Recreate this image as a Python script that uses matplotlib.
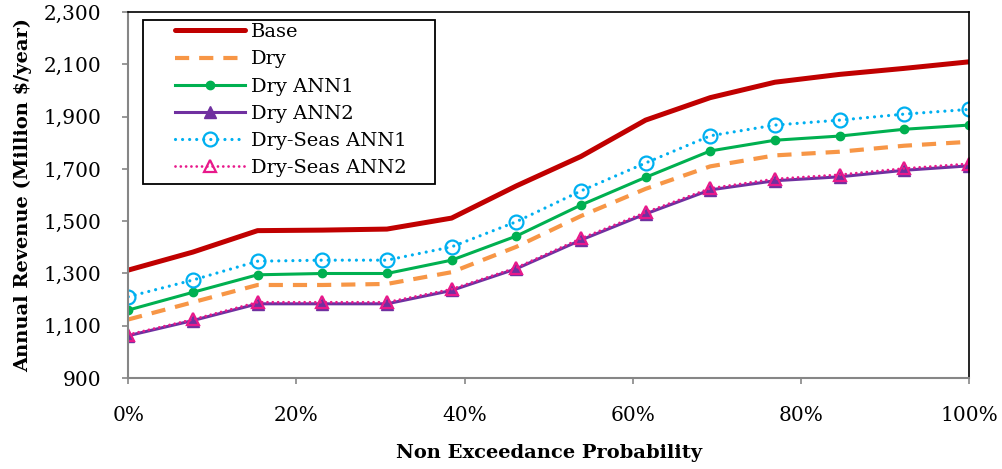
import matplotlib
matplotlib.use("Agg")
import matplotlib.pyplot as plt
from matplotlib.patches import Rectangle
from matplotlib.ticker import FuncFormatter, FixedLocator, MultipleLocator

# Non exceedance probability (%) - 14 points
prob = [0, 7.69, 15.38, 23.08, 30.77, 38.46, 46.15, 53.85, 61.54, 69.23, 76.92, 84.62, 92.31, 100]

base = [1313, 1382, 1464, 1466, 1470, 1512, 1635, 1748, 1887, 1973, 2032, 2062, 2085, 2110]
dry = [1124, 1190, 1256, 1256, 1260, 1305, 1402, 1520, 1624, 1710, 1752, 1766, 1789, 1804]
dry_ann1 = [1160, 1228, 1295, 1300, 1300, 1351, 1443, 1562, 1668, 1769, 1810, 1826, 1852, 1868]
dry_ann2 = [1062, 1120, 1184, 1184, 1184, 1235, 1318, 1428, 1528, 1620, 1655, 1670, 1695, 1712]
seas_ann1 = [1211, 1275, 1347, 1351, 1351, 1402, 1498, 1616, 1723, 1827, 1868, 1887, 1910, 1928]
seas_ann2 = [1066, 1124, 1190, 1190, 1190, 1240, 1322, 1434, 1534, 1626, 1662, 1678, 1702, 1720]

y_ticks = [900, 1100, 1300, 1500, 1700, 1900, 2100, 2300]

plt.rcParams['font.family'] = ['DejaVu Serif']

fig = plt.figure(figsize=(10.02, 4.69), dpi=100)
ax = fig.add_axes([0.128, 0.194, 0.839, 0.780])

ax.plot(prob, base, color='#C00000', linewidth=3.6, label='Base', solid_capstyle='round')
ax.plot(prob, dry, color='#F79646', linewidth=3.0, dashes=(3.4, 2.4), label='Dry')
ax.plot(prob, dry_ann1, color='#00B050', linewidth=2.2, marker='o', markersize=6, label='Dry ANN1')
ax.plot(prob, dry_ann2, color='#7030A0', linewidth=2.2, marker='^', markersize=9,
        markerfacecolor='#7030A0', markeredgecolor='#7030A0', label='Dry ANN2')
ax.plot(prob, seas_ann1, color='#00B0F0', linewidth=2.3, dashes=(0.01, 2.2), dash_capstyle='round',
        marker='o', markersize=10, markerfacecolor='none', markeredgewidth=1.6, label='Dry-Seas ANN1')
ax.plot(prob, seas_ann2, color='#E8198B', linewidth=2.0, dashes=(0.01, 1.9), dash_capstyle='round',
        marker='^', markersize=9, markerfacecolor='none', markeredgewidth=1.6, label='Dry-Seas ANN2')

ax.set_xlim(0, 100)
ax.set_ylim(900, 2300)
ax.xaxis.set_major_locator(MultipleLocator(20))
ax.yaxis.set_major_locator(FixedLocator(y_ticks))
ax.xaxis.set_major_formatter(FuncFormatter(lambda v, p: f"{v:.0f}%"))
ax.yaxis.set_major_formatter(FuncFormatter(lambda v, p: f"{v:,.0f}"))
ax.tick_params(axis='both', direction='out', length=4.5, width=1.2, color='#868686',
               labelsize=14.5, labelcolor='black')
ax.tick_params(axis='x', pad=16)
ax.tick_params(axis='y', pad=15)

for side in ['left', 'bottom']:
    ax.spines[side].set_color('#868686')
    ax.spines[side].set_linewidth(1.5)
for side in ['top', 'right']:
    ax.spines[side].set_color('black')
    ax.spines[side].set_linewidth(1.2)

ax.set_xlabel('Non Exceedance Probability', fontsize=14, fontweight='bold', labelpad=13)
ax.set_ylabel('Annual Revenue (Million $/year)', fontsize=14, fontweight='bold', labelpad=8)

# legend box with wide side margins like the original
ax.add_patch(Rectangle((0.0175, 0.530), 0.3475, 0.448, transform=ax.transAxes,
                       facecolor='white', edgecolor='black', linewidth=1.3, zorder=4))
leg = ax.legend(loc='upper left', bbox_to_anchor=(0.053, 0.975), fontsize=14,
                frameon=False, handlelength=3.6, borderpad=0.1, labelspacing=0.47,
                handletextpad=0.3, borderaxespad=0)
leg.set_zorder(5)

fig.savefig('out.png', dpi=100)
